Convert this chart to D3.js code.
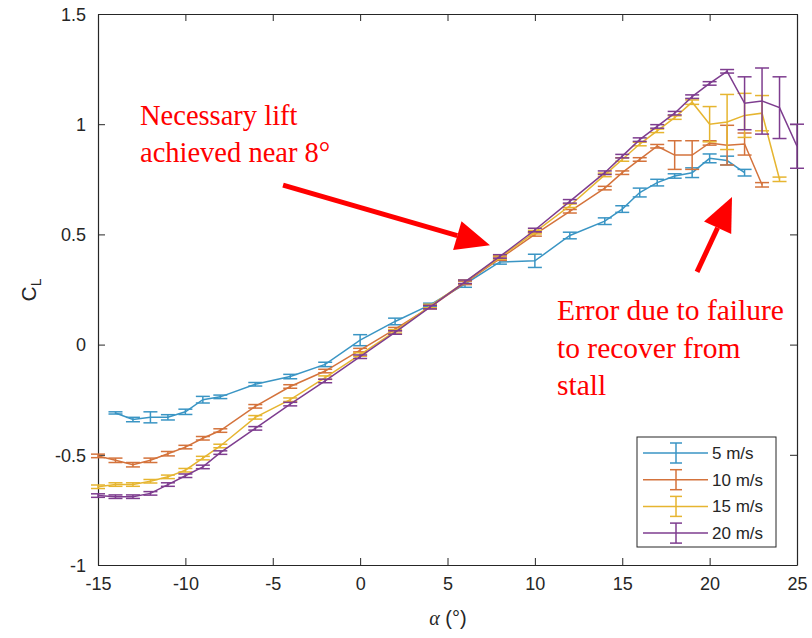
<!DOCTYPE html>
<html><head><meta charset="utf-8">
<script src="https://cdn.jsdelivr.net/npm/d3@7"></script>
<style>body{margin:0;background:#fff}svg{display:block}</style>
</head><body><svg id="c" width="812" height="638"></svg>
<script>
// ---- data ----
const xTicks = [-15,-10,-5,0,5,10,15,20,25];
const yTicks = [-1,-0.5,0,0.5,1,1.5];
const seriesNames = ["5 m/s","10 m/s","15 m/s","20 m/s"];

const alpha5  = [-14,-13,-12,-11,-10,-9,-8,-6,-4,-2,0,2,4,6,8,10,12,14,15,16,17,18,19,20,21,22];
const cl5     = [-0.31,-0.34,-0.33,-0.33,-0.305,-0.25,-0.237,-0.18,-0.145,-0.09,0.02,0.105,0.18,0.275,0.375,0.38,0.495,0.56,0.615,0.69,0.735,0.765,0.78,0.845,0.835,0.78];
const err5    = [0.005,0.01,0.025,0.012,0.012,0.015,0.008,0.008,0.01,0.01,0.025,0.015,0.008,0.015,0.01,0.03,0.015,0.015,0.015,0.02,0.015,0.01,0.022,0.02,0.02,0.015];

const alpha10 = [-15,-14,-13,-12,-11,-10,-9,-8,-6,-4,-2,0,2,4,6,8,10,12,14,15,16,17,18,19,20,21,22,23];
const cl10    = [-0.505,-0.525,-0.545,-0.525,-0.495,-0.465,-0.425,-0.39,-0.28,-0.19,-0.12,-0.025,0.07,0.17,0.28,0.39,0.5,0.605,0.71,0.78,0.84,0.9,0.86,0.86,0.915,0.905,0.91,0.725];
const err10   = [0.008,0.01,0.01,0.01,0.01,0.008,0.008,0.008,0.008,0.008,0.008,0.008,0.008,0.008,0.008,0.008,0.008,0.008,0.008,0.008,0.008,0.008,0.065,0.065,0.01,0.09,0.05,0.01];

const alpha15 = [-15,-14,-13,-12,-11,-10,-9,-8,-6,-4,-2,0,2,4,6,8,10,12,14,15,16,17,18,19,20,21,22,23,24];
const cl15    = [-0.645,-0.635,-0.635,-0.62,-0.6,-0.57,-0.515,-0.46,-0.33,-0.25,-0.15,-0.045,0.06,0.175,0.285,0.395,0.51,0.63,0.77,0.84,0.91,0.97,1.03,1.1,1.0,1.01,1.04,1.05,0.75];
const err15   = [0.008,0.008,0.008,0.008,0.008,0.008,0.008,0.008,0.008,0.008,0.008,0.008,0.008,0.008,0.008,0.008,0.008,0.008,0.008,0.008,0.008,0.008,0.008,0.01,0.08,0.125,0.1,0.08,0.01];

const alpha20 = [-15,-14,-13,-12,-11,-10,-9,-8,-6,-4,-2,0,2,4,6,8,10,12,14,15,16,17,18,19,20,21,22,23,24,25];
const cl20    = [-0.685,-0.69,-0.69,-0.675,-0.635,-0.595,-0.555,-0.49,-0.38,-0.27,-0.165,-0.055,0.055,0.17,0.285,0.4,0.52,0.65,0.78,0.855,0.93,0.99,1.05,1.125,1.185,1.24,1.095,1.105,1.075,0.9];
const err20   = [0.008,0.008,0.008,0.008,0.008,0.008,0.008,0.008,0.008,0.008,0.008,0.008,0.008,0.008,0.008,0.008,0.008,0.008,0.008,0.008,0.008,0.008,0.008,0.008,0.008,0.008,0.12,0.15,0.14,0.1];

const colors = ["#3a95c4","#d4733c","#e6b530","#7e3d8f"];
const annot1 = ["Necessary lift","achieved near 8°"];
const annot2 = ["Error due to failure","to recover from","stall"];

// ---- layout ----
const L=98,R=797,T=14,B=565;
const svg=d3.select("#c");
const x=d3.scaleLinear().domain([-15,25]).range([L,R]);
const y=d3.scaleLinear().domain([-1,1.5]).range([B,T]);
const axisColor="#262626";
const tickFont="'Liberation Sans',Arial,sans-serif";
const fmt=d=>String(d);

// axes
const gx=svg.append("g").attr("transform",`translate(0,${B})`)
  .call(d3.axisBottom(x).tickValues(xTicks).tickSizeInner(-7).tickSizeOuter(0).tickPadding(12).tickFormat(fmt));
const gxt=svg.append("g").attr("transform",`translate(0,${T})`)
  .call(d3.axisTop(x).tickValues(xTicks).tickSizeInner(-7).tickSizeOuter(0).tickFormat(""));
const gy=svg.append("g").attr("transform",`translate(${L},0)`)
  .call(d3.axisLeft(y).tickValues(yTicks).tickSizeInner(-7).tickSizeOuter(0).tickPadding(12).tickFormat(fmt));
const gyr=svg.append("g").attr("transform",`translate(${R},0)`)
  .call(d3.axisRight(y).tickValues(yTicks).tickSizeInner(-7).tickSizeOuter(0).tickFormat(""));
[gx,gxt,gy,gyr].forEach(g=>{
  g.selectAll(".domain").attr("stroke",axisColor).attr("stroke-width",1.2);
  g.selectAll(".tick line").attr("stroke",axisColor).attr("stroke-width",1);
  g.selectAll(".tick text").attr("fill","#262626").style("font-family",tickFont).style("font-size","18px");
});
gy.selectAll(".tick text").attr("dy","0.35em");

// series
const series=[
  {a:alpha5,c:cl5,e:err5},
  {a:alpha10,c:cl10,e:err10},
  {a:alpha15,c:cl15,e:err15},
  {a:alpha20,c:cl20,e:err20}
];
const capW=7;
const line=d3.line().x(d=>x(d.a)).y(d=>y(d.c));
series.forEach((s,i)=>{
  const pts=s.a.map((a,k)=>({a,c:s.c[k],e:s.e[k]}));
  const g=svg.append("g").attr("stroke",colors[i]).attr("fill","none").attr("stroke-width",1.5);
  g.append("path").attr("d",line(pts));
  const eb=g.selectAll("g.eb").data(pts).join("g");
  eb.append("line").attr("x1",d=>x(d.a)).attr("x2",d=>x(d.a)).attr("y1",d=>y(d.c-d.e)).attr("y2",d=>y(d.c+d.e));
  eb.append("line").attr("x1",d=>x(d.a)-capW).attr("x2",d=>x(d.a)+capW).attr("y1",d=>y(d.c-d.e)).attr("y2",d=>y(d.c-d.e));
  eb.append("line").attr("x1",d=>x(d.a)-capW).attr("x2",d=>x(d.a)+capW).attr("y1",d=>y(d.c+d.e)).attr("y2",d=>y(d.c+d.e));
});

// axis labels
const yl=svg.append("text").attr("transform","translate(36,290) rotate(-90)").attr("text-anchor","middle")
  .style("font-family",tickFont).style("font-size","21px").attr("fill","#262626");
yl.append("tspan").text("C");
yl.append("tspan").attr("dy","5").style("font-size","14px").text("L");
const xl=svg.append("text").attr("x",448).attr("y",625).attr("text-anchor","middle").attr("fill","#262626").style("font-size","20px");
xl.append("tspan").style("font-family","'Liberation Serif','Times New Roman',serif").style("font-style","italic").text("α");
xl.append("tspan").style("font-family",tickFont).text(" (°)");

// legend
const lg=svg.append("g");
lg.append("rect").attr("x",637).attr("y",437).attr("width",139).attr("height",110).attr("fill","#fff").attr("stroke","#262626").attr("stroke-width",1);
seriesNames.forEach((n,i)=>{
  const yy=453+i*26.7;
  const g=lg.append("g").attr("stroke",colors[i]).attr("stroke-width",1.5);
  g.append("line").attr("x1",643).attr("x2",708).attr("y1",yy).attr("y2",yy);
  g.append("line").attr("x1",676).attr("x2",676).attr("y1",yy-10).attr("y2",yy+10);
  g.append("line").attr("x1",670).attr("x2",682).attr("y1",yy-10).attr("y2",yy-10);
  g.append("line").attr("x1",670).attr("x2",682).attr("y1",yy+10).attr("y2",yy+10);
  lg.append("text").attr("x",712).attr("y",yy).attr("dy","0.35em").attr("fill","#262626")
    .style("font-family",tickFont).style("font-size","17px").text(n);
});

// annotations
const serif="'Liberation Serif','Times New Roman',serif";
annot1.forEach((t,i)=>svg.append("text").attr("x",140).attr("y",125+i*37).attr("fill","#ff0000")
  .style("font-family",serif).style("font-size","28.5px").text(t));
annot2.forEach((t,i)=>svg.append("text").attr("x",557).attr("y",320+i*37.5).attr("fill","#ff0000")
  .style("font-family",serif).style("font-size","29.5px").text(t));

function arrow(a0,c0,a1,c1){
  const x0=x(a0),y0=y(c0),x1=x(a1),y1=y(c1);
  const dx=x1-x0,dy=y1-y0,len=Math.hypot(dx,dy),ux=dx/len,uy=dy/len;
  const hl=34,hw=15;
  const bx=x1-ux*hl,by=y1-uy*hl;
  svg.append("line").attr("x1",x0).attr("y1",y0).attr("x2",bx).attr("y2",by).attr("stroke","#ff0000").attr("stroke-width",5);
  svg.append("path").attr("d",`M${x1},${y1}L${bx-uy*hw},${by+ux*hw}L${bx+uy*hw},${by-ux*hw}Z`).attr("fill","#ff0000");
}
arrow(-4.41,0.724,7.43,0.451);
arrow(19.28,0.33,21.28,0.67);
</script></body></html>
